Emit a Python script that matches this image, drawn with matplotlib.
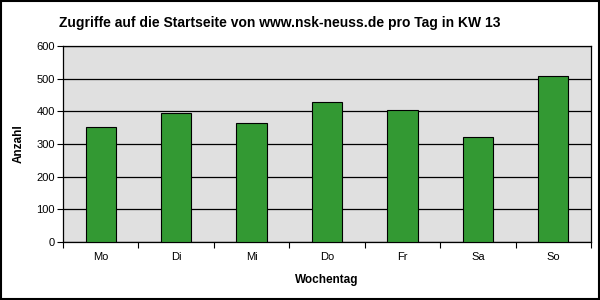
import matplotlib.pyplot as plt
import numpy as np
from matplotlib.patches import Rectangle

plt.rcParams["font.family"] = ["Liberation Sans", "DejaVu Sans"]

days = ["Mo", "Di", "Mi", "Do", "Fr", "Sa", "So"]
hits = [351, 394, 363, 428, 403, 320, 507]
y_ticks = [0, 100, 200, 300, 400, 500, 600]

fig = plt.figure(figsize=(6, 3), dpi=100)
ax = fig.add_axes([0.105, 0.193, 0.88, 0.654])

x = np.arange(len(days))
ax.bar(x, hits, width=0.4, color="#339933", edgecolor="black", linewidth=0.8, zorder=3)

ax.set_facecolor("#e0e0e0")
ax.set_xlim(-0.5, len(days) - 0.5)
ax.set_ylim(0, 600)
ax.set_yticks(y_ticks)
ax.yaxis.grid(True, color="black", linewidth=0.9, zorder=1)
ax.set_axisbelow(True)

ax.set_xticks(x)
ax.set_xticklabels(days)
ax.set_xticks(np.arange(-0.5, len(days)), minor=True)
ax.tick_params(axis="x", which="major", length=0, labelsize=8, pad=7)
ax.tick_params(axis="x", which="minor", length=4, width=0.8, direction="out")
ax.tick_params(axis="y", length=4, width=0.8, direction="out", labelsize=8, pad=2)

for s in ax.spines.values():
    s.set_color("black")
    s.set_linewidth(0.9)

ax.set_xlabel("Wochentag", fontsize=8.5, fontweight="bold", labelpad=9)
ax.set_ylabel("Anzahl", fontsize=8.5, fontweight="bold", labelpad=8)

fig.text(280 / 600, 1 - 23 / 300, "Zugriffe auf die Startseite von www.nsk-neuss.de pro Tag in KW 13",
         ha="center", va="center", fontsize=10, fontweight="heavy")

fig.patches.append(Rectangle((0.001, 0.002), 0.997, 0.995, transform=fig.transFigure,
                             fill=False, edgecolor="black", linewidth=1.5))

fig.savefig("out.png", dpi=100)
